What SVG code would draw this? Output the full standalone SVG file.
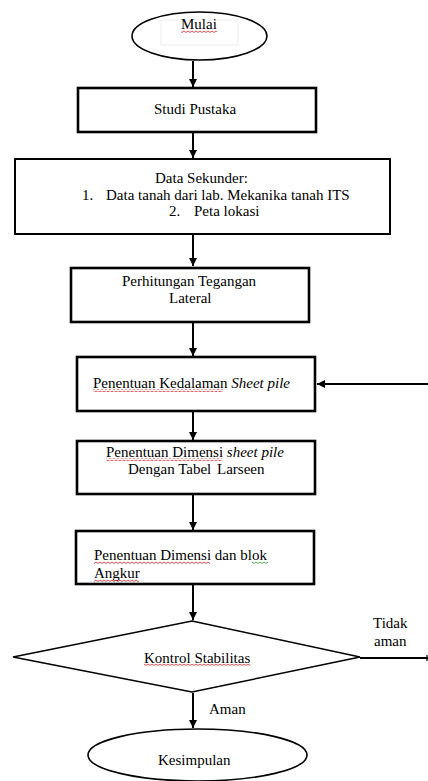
<svg xmlns="http://www.w3.org/2000/svg" width="428" height="781" viewBox="0 0 428 781">
<defs>
<marker id="ah" viewBox="0 0 10 10" refX="10" refY="5" markerWidth="4" markerHeight="4" markerUnits="strokeWidth" orient="auto">
<path d="M0,0 L10,5 L0,10 z" fill="#000"/>
</marker>
<pattern id="sqr" patternUnits="userSpaceOnUse" width="4" height="3">
<path d="M0,1 L2,2.5 L4,1" fill="none" stroke="#e02020" stroke-width="0.8"/>
</pattern>
<pattern id="sqg" patternUnits="userSpaceOnUse" width="4" height="3">
<path d="M0,1 L2,2.5 L4,1" fill="none" stroke="#2a9a2a" stroke-width="0.8"/>
</pattern>
</defs>
<style>
text{font-family:"Liberation Serif","Times New Roman",serif;font-size:15px;fill:#000}
.box{fill:#fff;stroke:#000;stroke-width:2.6}
.thin{fill:#fff;stroke:#000;stroke-width:1.6}
.con{fill:none;stroke:#000;stroke-width:2}
.it{font-style:italic}
</style>
<rect width="428" height="781" fill="#fff"/>

<g id="connectors">
<line class="con" x1="193" y1="61" x2="193" y2="87" marker-end="url(#ah)"/>
<line class="con" x1="193" y1="133" x2="193" y2="158" marker-end="url(#ah)"/>
<line class="con" x1="193" y1="235" x2="193" y2="266" marker-end="url(#ah)"/>
<line class="con" x1="193" y1="323" x2="193" y2="356" marker-end="url(#ah)"/>
<line class="con" x1="193" y1="412" x2="193" y2="440" marker-end="url(#ah)"/>
<line class="con" x1="193" y1="495" x2="193" y2="530" marker-end="url(#ah)"/>
<line class="con" x1="193" y1="585" x2="193" y2="620" marker-end="url(#ah)"/>
<line class="con" x1="193" y1="693" x2="193" y2="728" marker-end="url(#ah)"/>
<line class="con" x1="428" y1="384" x2="317" y2="384" marker-end="url(#ah)"/>
<line class="con" x1="360" y1="658" x2="428" y2="658"/>
<line x1="427" y1="655" x2="427" y2="661" stroke="#000" stroke-width="1.2"/>
</g>

<g id="mulai">
<ellipse class="thin" cx="199.5" cy="36" rx="67.5" ry="24"/>
<rect x="161" y="20" width="77" height="25" fill="#fff" stroke="#ececec" stroke-width="1"/>
<text x="181" y="29">Mulai</text>
<rect x="181" y="30" width="36" height="3" fill="url(#sqr)"/>
</g>

<g id="studi-pustaka">
<rect class="box" x="78" y="88" width="238" height="44"/>
<text x="154" y="114">Studi Pustaka</text>
</g>

<g id="data-sekunder">
<rect class="thin" x="15" y="159" width="375" height="75" style="stroke-width:2"/>
<text x="155" y="183">Data Sekunder:</text>
<text x="82" y="200">1.</text>
<text x="106" y="200">Data tanah dari lab. Mekanika tanah ITS</text>
<text x="169" y="216">2.</text>
<text x="194" y="216">Peta lokasi</text>
</g>

<g id="perhitungan">
<rect class="box" x="71" y="268" width="238" height="54"/>
<text x="122" y="286">Perhitungan Tegangan</text>
<text x="169" y="303">Lateral</text>
</g>

<g id="kedalaman">
<rect class="box" x="77" y="357" width="238" height="54"/>
<text x="93" y="388">Penentuan Kedalaman <tspan class="it">Sheet pile</tspan></text>
<rect x="93" y="389" width="130" height="3" fill="url(#sqr)"/>
</g>

<g id="dimensi">
<rect class="box" x="77" y="441" width="238" height="53"/>
<text x="106" y="457">Penentuan Dimensi <tspan class="it">sheet pile</tspan></text>
<rect x="106" y="458" width="116" height="3" fill="url(#sqr)"/>
<text x="128" y="474">Dengan Tabel<tspan x="217">Larseen</tspan></text>
</g>

<g id="angkur">
<rect class="box" x="76" y="531" width="238" height="53"/>
<text x="94" y="560">Penentuan Dimensi dan blok</text>
<rect x="94" y="561" width="116" height="3" fill="url(#sqr)"/>
<rect x="252" y="561" width="16" height="3" fill="url(#sqg)"/>
<text x="94" y="578">Angkur</text>
<rect x="94" y="579" width="45" height="3" fill="url(#sqr)"/>
</g>

<g id="kontrol">
<polygon class="thin" points="192,621 360,657 192,692 13,657" style="stroke-width:1.5"/>
<text x="144" y="663">Kontrol Stabilitas</text>
<rect x="144" y="664" width="106" height="3" fill="url(#sqr)"/>
<text x="373" y="628">Tidak</text>
<text x="374" y="646">aman</text>
<text x="209" y="714">Aman</text>
</g>

<g id="kesimpulan">
<ellipse class="thin" cx="197.5" cy="755" rx="109.5" ry="26"/>
<text x="158" y="765">Kesimpulan</text>
</g>
</svg>
